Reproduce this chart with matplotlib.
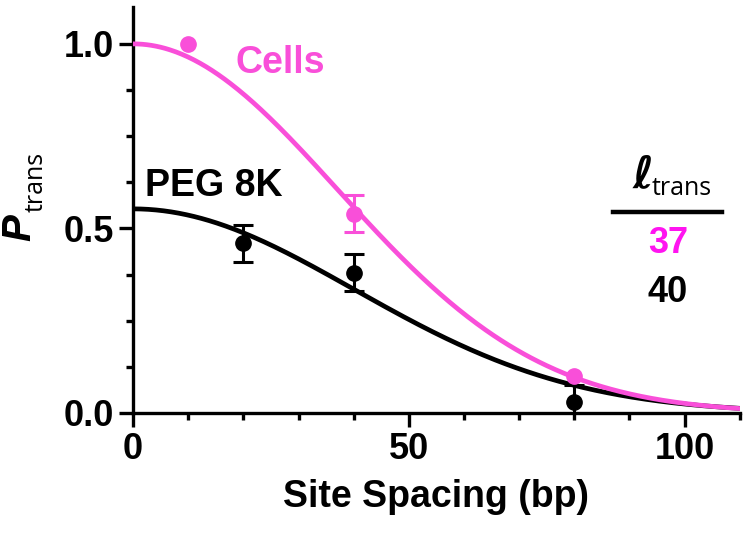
import numpy as np
import matplotlib.pyplot as plt
from matplotlib.ticker import MultipleLocator

# measured points (site spacing in bp, P_trans, error)
cells_x = [10, 40, 80]
cells_y = [1.0, 0.54, 0.10]
cells_err = [0.0, 0.05, 0.0]

peg_x = [20, 40, 80]
peg_y = [0.46, 0.38, 0.03]
peg_err = [0.05, 0.05, 0.045]

# fit parameters (amplitude, l_trans)
cells_fit = (1.0, 37)
peg_fit = (0.553, 40)
l_labels = ["37", "40"]

pink = '#F94FD9'
magenta = '#FF14F0'

plt.rcParams['font.family'] = ['Liberation Sans', 'DejaVu Sans']
plt.rcParams['font.weight'] = 'bold'

fig = plt.figure(figsize=(7.48, 5.36), dpi=100)
ax = fig.add_axes([0.178, 0.2295, 0.811, 0.7575])

xs = np.linspace(0, 110, 400)


def fit_curve(params):
    amp, ell = params
    return amp * np.exp(-xs**2 / (2 * ell**2))


def draw_points(x, y, err, color, z):
    x, y, err = np.array(x), np.array(y), np.array(err)
    has = err > 0
    ax.errorbar(x[has], y[has], yerr=err[has], fmt='none', ecolor=color,
                elinewidth=2.2, capsize=7, capthick=2.2, zorder=z)
    ax.plot(x, y, 'o', color=color, ms=11, zorder=z + 0.1)


ax.plot(xs, fit_curve(peg_fit), color='black', lw=3.4, zorder=2)
draw_points(peg_x, peg_y, peg_err, 'black', 3)
ax.plot(xs, fit_curve(cells_fit), color=pink, lw=3.4, zorder=4)
draw_points(cells_x, cells_y, cells_err, pink, 5)

ax.set_xlim(0, 110)
ax.set_ylim(0, 1.1)
ax.xaxis.set_major_locator(MultipleLocator(50))
ax.xaxis.set_minor_locator(MultipleLocator(10))
ax.yaxis.set_major_locator(MultipleLocator(0.5))
ax.yaxis.set_minor_locator(MultipleLocator(0.125))
ax.yaxis.set_major_formatter(plt.FormatStrFormatter('%.1f'))

for s in ['top', 'right']:
    ax.spines[s].set_visible(False)
for s in ['left', 'bottom']:
    ax.spines[s].set_linewidth(2.4)
ax.tick_params(which='major', length=10, width=2.4, labelsize=26, pad=4)
ax.tick_params(which='minor', length=5, width=2.4)

ax.set_xlabel('Site Spacing (bp)', fontsize=27, fontweight='bold', labelpad=8)

# y label: italic P with subscript
fig.text(0.026, 0.575, 'P', rotation=90, fontsize=29, fontstyle='italic',
         fontweight='bold', ha='center', va='center')
fig.text(0.048, 0.66, 'trans', rotation=90, fontsize=18, fontweight='normal',
         family=['Open Sans', 'DejaVu Sans'], ha='center', va='center')

ax.text(18.5, 0.948, 'Cells', color=pink, fontsize=27, fontweight='bold',
        ha='left', va='center')
ax.text(2.2, 0.615, 'PEG 8K', color='black', fontsize=27, fontweight='bold',
        ha='left', va='center')

# l_trans table
fig.text(0.858, 0.672, r'$\ell$', fontsize=32, ha='center', va='center',
         family=['DejaVu Serif'], style='italic')
fig.text(0.912, 0.648, 'trans', fontsize=18, fontweight='normal',
         family=['Open Sans', 'DejaVu Sans'], ha='center', va='center')
fig.add_artist(plt.Line2D([0.819, 0.965], [0.605, 0.605], color='black',
                          lw=3.2, transform=fig.transFigure))
fig.text(0.893, 0.546, l_labels[0], color=magenta, fontsize=26,
         fontweight='bold', ha='center', va='center')
fig.text(0.893, 0.455, l_labels[1], color='black', fontsize=26,
         fontweight='bold', ha='center', va='center')

fig.savefig('out.png', dpi=100)
